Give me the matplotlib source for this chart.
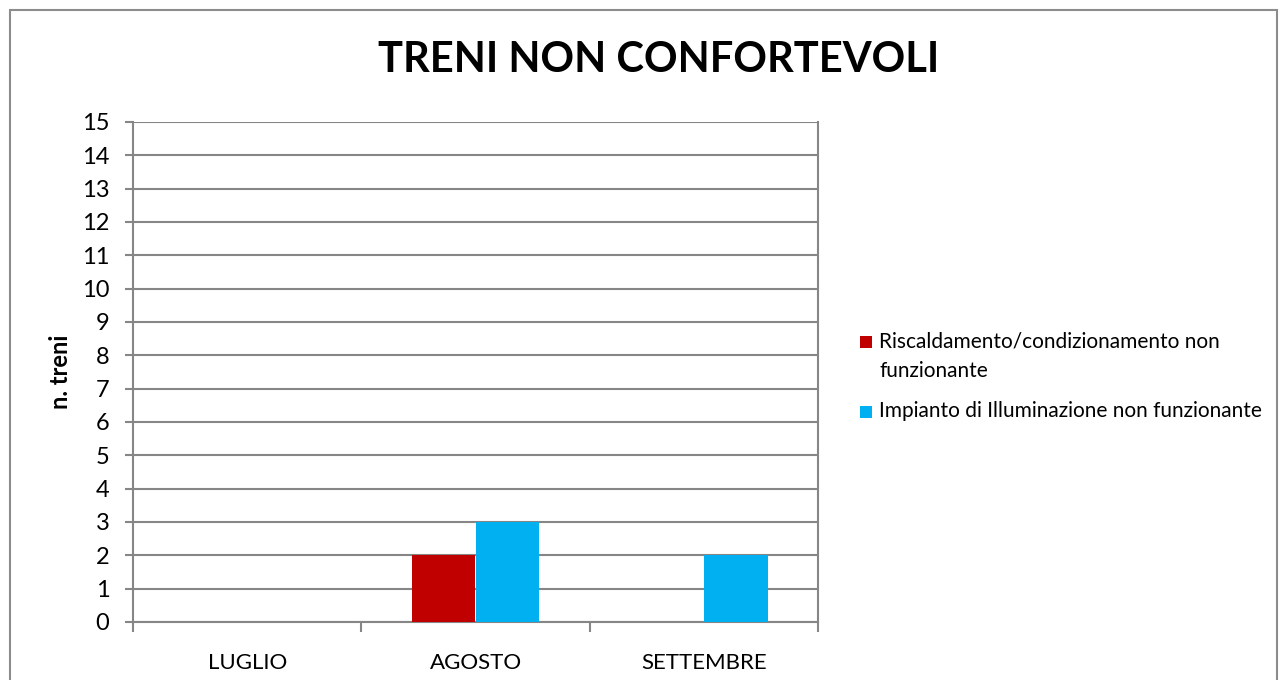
import numpy as np
import matplotlib.pyplot as plt
import matplotlib.patches as pat

plt.rcParams['font.family'] = ['Lato', 'DejaVu Sans']

# --- dati ---
mesi = ["LUGLIO", "AGOSTO", "SETTEMBRE"]
riscaldamento = [0, 2, 0]
illuminazione = [0, 3, 2]
serie_nomi = ["Riscaldamento/condizionamento non\nfunzionante",
              "Impianto di Illuminazione non funzionante"]
colori = ["#C00000", "#00B0F0"]
y_ticks = list(range(0, 16))

W, H = 1281, 680
fig = plt.figure(figsize=(W / 100, H / 100), dpi=100, facecolor="white")

# cornice del grafico
fig.patches.append(pat.Rectangle((10 / W, -0.01), 1267 / W, 1 - 10 / H + 0.01,
                                 transform=fig.transFigure, fill=False,
                                 edgecolor="#8c8c8c", linewidth=1.5))

ax = fig.add_axes([133 / W, 1 - 622 / H, (818 - 133) / W, (622 - 122) / H])

x = np.arange(len(mesi))
w = 0.28
ax.bar(x - w / 2, riscaldamento, w, color=colori[0], zorder=3)
ax.bar(x + w / 2, illuminazione, w, color=colori[1], zorder=3)

ax.set_xlim(-0.5, len(mesi) - 0.5)
ax.set_ylim(0, 15)
ax.set_yticks(y_ticks)
ax.tick_params(axis="y", labelsize=17, length=6, color="#868686", width=1.5, pad=11)
ax.set_xticks(x)
ax.set_xticklabels(mesi)
ax.tick_params(axis="x", labelsize=16, length=0, pad=22)
# tacche tra le categorie
ax.set_xticks(np.arange(-0.5, len(mesi)), minor=True)
ax.tick_params(axis="x", which="minor", length=7, color="#868686", width=1.5)

ax.grid(axis="y", color="#868686", linewidth=1.5, zorder=0)
for s in ["left", "bottom", "right"]:
    ax.spines[s].set_color("#868686")
    ax.spines[s].set_linewidth(1.5)
ax.spines["top"].set_visible(False)

ax.set_ylabel("n. treni", fontsize=17, fontweight="bold", labelpad=7)

fig.text(659 / W, 1 - 60 / H, "TRENI NON CONFORTEVOLI", fontsize=30,
         fontweight="bold", ha="center", va="center")

# legenda
leg_y = [342, 412]
for nome, col, yy in zip(serie_nomi, colori, leg_y):
    fig.patches.append(pat.Rectangle((860 / W, 1 - (yy + 6) / H), 12 / W, 12 / H,
                                     transform=fig.transFigure, facecolor=col,
                                     edgecolor="none"))
    fig.text(879 / W, 1 - (yy - 11) / H, nome, fontsize=15, ha="left", va="top",
             linespacing=1.6)

plt.savefig("out.png", dpi=100, facecolor="white")
